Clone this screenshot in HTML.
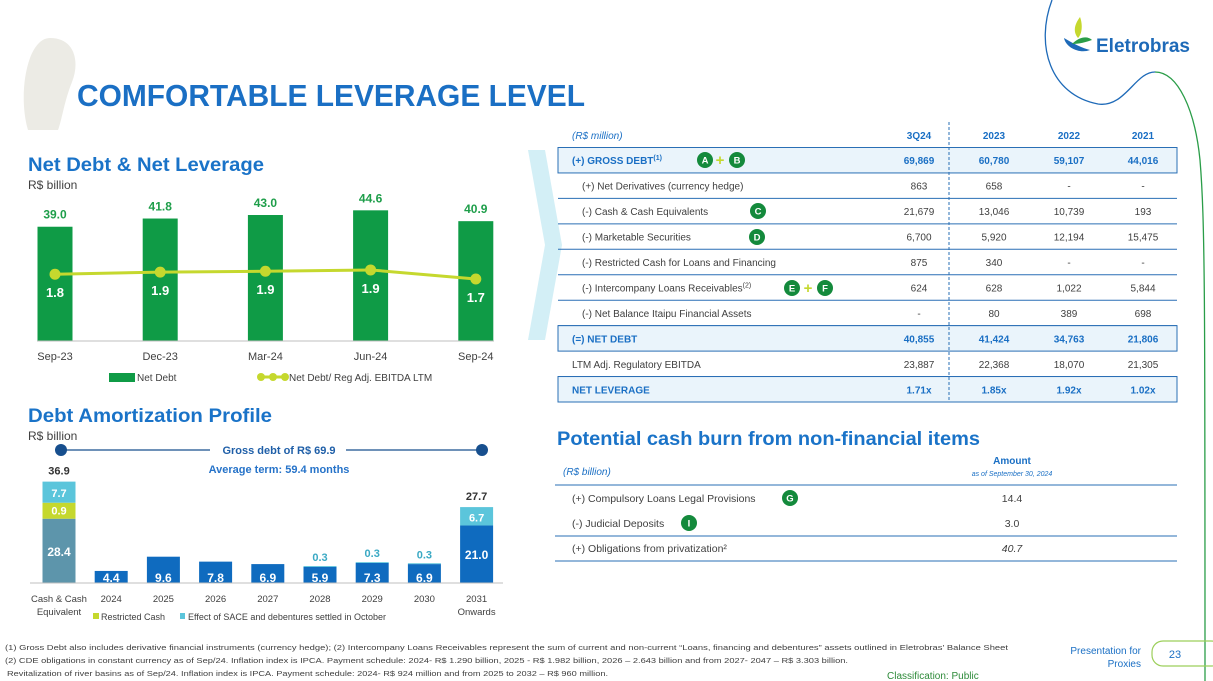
<!DOCTYPE html>
<html><head><meta charset="utf-8"><style>
html,body{margin:0;padding:0;background:#fff;}
svg{display:block;font-family:"Liberation Sans",sans-serif;}
</style></head><body>
<svg id="s" width="1213" height="681" viewBox="0 0 1213 681" xmlns="http://www.w3.org/2000/svg">
<path d="M50,38 C75,38 80,62 72,82 C64,102 62,120 58,130 L28,130 C22,110 22,80 30,58 C35,45 42,38 50,38Z" fill="#ecebe5"/>
<path d="M1052,0 C1035,45 1050,95 1098,104 C1125,108 1135,72 1155,72" fill="none" stroke="#1e6ab8" stroke-width="1.3"/>
<path d="M1155,72 C1178,72 1195,110 1200,160 C1205,220 1205,300 1205,681" fill="none" stroke="#2a9d48" stroke-width="1.3"/>
<g>
<path d="M1080,17 C1074,25 1073,32 1078,38 C1082,34 1083,25 1080,17Z" fill="#c5d82e"/>
<path d="M1064,38 C1066,48 1080,54 1090,50 C1082,48 1074,44 1064,38Z" fill="#1e6ab8"/>
<path d="M1072,44 C1080,36 1088,36 1092,40 C1086,42 1080,44 1072,44Z" fill="#2a9d48"/>
<text x="1096" y="52" font-size="19" font-weight="bold" fill="#1e6ab8" textLength="94">Eletrobras</text>
</g>
<text x="77" y="106" font-size="31" font-weight="bold" fill="#1a6fc4" textLength="508" lengthAdjust="spacingAndGlyphs">COMFORTABLE LEVERAGE LEVEL</text>

<text x="28" y="171" font-size="19" font-weight="bold" fill="#1a73c8" textLength="236" lengthAdjust="spacingAndGlyphs">Net Debt &amp; Net Leverage</text>
<text x="28" y="189" font-size="12" fill="#404040">R$ billion</text>
<g id="c1"></g>

<text x="28" y="422" font-size="19" font-weight="bold" fill="#1a73c8" textLength="244" lengthAdjust="spacingAndGlyphs">Debt Amortization Profile</text>
<text x="28" y="440" font-size="12" fill="#404040">R$ billion</text>
<g>
<line x1="61" y1="450" x2="210" y2="450" stroke="#174f8e" stroke-width="1.3"/>
<line x1="346" y1="450" x2="482" y2="450" stroke="#174f8e" stroke-width="1.3"/>
<circle cx="61" cy="450" r="6" fill="#174f8e"/><circle cx="482" cy="450" r="6" fill="#174f8e"/>
<text x="279" y="454" font-size="11" font-weight="bold" fill="#1f5fa8" text-anchor="middle">Gross debt of R$ 69.9</text>
<text x="279" y="473" font-size="11" font-weight="bold" fill="#2673c9" text-anchor="middle">Average term: 59.4 months</text>
</g>
<g id="c2"></g>

<polygon points="528,150 545,150 562,245 545,340 528,340 545,245" fill="#d3eff6"/>

<g id="tbl"></g>

<text x="557" y="445" font-size="19" font-weight="bold" fill="#1a73c8" textLength="423" lengthAdjust="spacingAndGlyphs">Potential cash burn from non-financial items</text>
<g id="tbl2"></g>

<g font-size="7.5" fill="#404040">
<text x="5" y="650" textLength="1003" lengthAdjust="spacingAndGlyphs">(1)    Gross Debt also includes derivative financial instruments (currency hedge); (2) Intercompany Loans Receivables represent the sum of current and non-current “Loans, financing and debentures” assets outlined in Eletrobras’ Balance Sheet</text>
<text x="5" y="663" textLength="843" lengthAdjust="spacingAndGlyphs">(2)    CDE obligations in constant currency as of Sep/24. Inflation index is IPCA. Payment schedule: 2024- R$ 1.290 billion, 2025 - R$ 1.982 billion, 2026 – 2.643 billion and from 2027- 2047 – R$ 3.303 billion.</text>
<text x="7" y="676" textLength="601" lengthAdjust="spacingAndGlyphs">Revitalization of river basins as of Sep/24. Inflation index is IPCA. Payment schedule: 2024- R$ 924 million and from 2025 to 2032 – R$ 960 million.</text>
</g>
<text x="1141" y="654" font-size="10" fill="#1a6fc4" text-anchor="end">Presentation for</text>
<text x="1141" y="667" font-size="10" fill="#1a6fc4" text-anchor="end">Proxies</text>
<rect x="1152" y="641" width="70" height="25" rx="11" fill="none" stroke="#9ccf5a" stroke-width="1.2"/>
<text x="1175" y="658" font-size="11" fill="#1a6fc4" text-anchor="middle">23</text>
<text x="887" y="679" font-size="10" fill="#2e8b3a">Classification: Public</text>
</svg>
<script>
var NS="http://www.w3.org/2000/svg";
function mk(p,t,a,txt){var e=document.createElementNS(NS,t);for(var k in a)e.setAttribute(k,a[k]);if(txt!==undefined)e.textContent=txt;p.appendChild(e);return e;}

var c1Cats=["Sep-23","Dec-23","Mar-24","Jun-24","Sep-24"];
var c1NetDebt=[39.0,41.8,43.0,44.6,40.9];
var c1Leverage=[1.82,1.87,1.89,1.92,1.71];
var c1LevLabels=["1.8","1.9","1.9","1.9","1.7"];

var c1=document.getElementById('c1');
function x1(i){return 55+i*105.2;}
function y1(v){return 341-v*2.93;}
function yl(v){return 279.4-(v-1.7)*43;}
c1NetDebt.forEach(function(v,i){
  var r=mk(c1,'rect',{x:x1(i)-17.5,y:y1(v),width:35,height:341-y1(v),fill:'#0f9b46'});
  
  
  var t=mk(c1,'text',{x:x1(i),y:y1(v)-8,'font-size':12,'font-weight':'bold',fill:'#1e9e4a','text-anchor':'middle'},v.toFixed(1));
  
  
  var xl=mk(c1,'text',{x:x1(i),y:360,'font-size':11,fill:'#404040','text-anchor':'middle'},c1Cats[i]);
  
  
});
var ax=mk(c1,'line',{x1:37,y1:341,x2:494,y2:341,stroke:'#bfbfbf','stroke-width':1});


var pts=c1Leverage.map(function(v,i){return x1(i)+','+yl(v);}).join(' ');
var pl=mk(c1,'polyline',{points:pts,fill:'none',stroke:'#c5d82e','stroke-width':3});


c1Leverage.forEach(function(v,i){
  var c=mk(c1,'circle',{cx:x1(i),cy:yl(v),r:5.5,fill:'#c5d82e'});
  
  
  var t=mk(c1,'text',{x:x1(i),y:yl(v)+23,'font-size':13,'font-weight':'bold',fill:'#fff','text-anchor':'middle'},c1LevLabels[i]);
  
  
});
var lg=mk(c1,'g',{});


mk(lg,'rect',{x:109,y:373,width:26,height:9,fill:'#0f9b46'});
mk(lg,'text',{x:137,y:381,'font-size':10,fill:'#404040'},'Net Debt');
mk(lg,'line',{x1:258,y1:377,x2:288,y2:377,stroke:'#c5d82e','stroke-width':3});
[261,273,285].forEach(function(cx){mk(lg,'circle',{cx:cx,cy:377,r:4,fill:'#c5d82e'});});
mk(lg,'text',{x:289,y:381,'font-size':10,fill:'#404040'},'Net Debt/ Reg Adj. EBITDA LTM');

var c2Cats=["Cash & Cash|Equivalent","2024","2025","2026","2027","2028","2029","2030","2031|Onwards"];
var c2Main=[28.4,4.4,9.6,7.8,6.9,5.9,7.3,6.9,21.0];
var c2Restricted=[0.9,0,0,0,0,0,0,0,0];
var c2Sace=[7.7,0,0,0,0,0.3,0.3,0.3,6.7];
var c2Totals=["36.9","","","","","","","","27.7"];

var c2=document.getElementById('c2');
function x2(i){return 59+i*52.2;}
function h2(v){return v*2.74;}
var base=583;
c2Main.forEach(function(v,i){
  var hr=c2Restricted[i]>0?Math.max(h2(c2Restricted[i]),16):0;
  var hm=Math.max(h2(v)+h2(c2Restricted[i])-hr,4);
  var y=base-hm;
  var r=mk(c2,'rect',{x:x2(i)-16.5,y:y,width:33,height:hm,fill:i===0?'#5d95ab':'#0f6bbf'});
  
  
  var ly=hm>30?y+hm/2+5:y+hm-1;
  var t=mk(c2,'text',{x:x2(i),y:ly,'font-size':12,'font-weight':'bold',fill:'#fff','text-anchor':'middle'},v.toFixed(1));
  
  
  if(c2Restricted[i]>0){
    y-=hr;
    var rr=mk(c2,'rect',{x:x2(i)-16.5,y:y,width:33,height:hr,fill:'#c5d82e'});
    
    
    var tr=mk(c2,'text',{x:x2(i),y:y+hr/2+4,'font-size':11,'font-weight':'bold',fill:'#fff','text-anchor':'middle'},c2Restricted[i].toFixed(1));
    
    
  }
  if(c2Sace[i]>0){
    var hs=h2(c2Sace[i]); y-=hs;
    var rs=mk(c2,'rect',{x:x2(i)-16.5,y:y,width:33,height:hs,fill:'#5bc5db'});
    
    
    var big=hs>12;
    var ts=mk(c2,'text',{x:x2(i),y:big?y+hs/2+5:y-5,'font-size':11,'font-weight':'bold',fill:big?'#fff':'#3aa9c4','text-anchor':'middle'},c2Sace[i].toFixed(1));
    
    
  }
  if(c2Totals[i]){
    var tt=mk(c2,'text',{x:x2(i),y:y-7,'font-size':11,'font-weight':'bold',fill:'#333','text-anchor':'middle'},c2Totals[i]);
    
    
  }
  var parts=c2Cats[i].split('|');
  parts.forEach(function(p,k){
    var xl=mk(c2,'text',{x:x2(i),y:602+k*13,'font-size':9.5,fill:'#404040','text-anchor':'middle'},p);
    
    
  });
});
var ax2=mk(c2,'line',{x1:30,y1:583,x2:503,y2:583,stroke:'#bfbfbf','stroke-width':1});


var lg2=mk(c2,'g',{});


mk(lg2,'rect',{x:93,y:613,width:6,height:6,fill:'#c5d82e'});
mk(lg2,'text',{x:101,y:620,'font-size':9,fill:'#404040'},'Restricted Cash');
mk(lg2,'rect',{x:180,y:613,width:5,height:6,fill:'#5bc5db'});
mk(lg2,'text',{x:188,y:620,'font-size':9,fill:'#404040'},'Effect of SACE and debentures settled in October');

var tbl=document.getElementById('tbl');
var tHead=["3Q24","2023","2022","2021"];
var colX=[919,994,1069,1143];
var rows=[
 ["(+) GROSS DEBT","69,869","60,780","59,107","44,016",1,"1"],
 ["(+) Net Derivatives (currency hedge)","863","658","-","-",0],
 ["(-) Cash & Cash Equivalents","21,679","13,046","10,739","193",0],
 ["(-) Marketable Securities","6,700","5,920","12,194","15,475",0],
 ["(-) Restricted Cash for Loans and Financing","875","340","-","-",0],
 ["(-) Intercompany Loans Receivables","624","628","1,022","5,844",0,"2"],
 ["(-) Net Balance Itaipu Financial Assets","-","80","389","698",0],
 ["(=) NET DEBT","40,855","41,424","34,763","21,806",1],
 ["LTM Adj. Regulatory EBITDA","23,887","22,368","18,070","21,305",2],
 ["NET LEVERAGE","1.71x","1.85x","1.92x","1.02x",1]
];
var hdr=mk(tbl,'text',{x:572,y:139,'font-size':10,'font-style':'italic',fill:'#1a6fc4'},'(R$ million)');


tHead.forEach(function(h,j){var t=mk(tbl,'text',{x:colX[j],y:139,'font-size':10,'font-weight':'bold',fill:'#1a6fc4','text-anchor':'middle'},h);

});
var top0=147.5,rh=25.45;
rows.forEach(function(r,i){
  var y0=top0+i*rh,cy=y0+rh/2+4;
  var g=mk(tbl,'g',{});
  
  
  if(r[5]===1){mk(g,'rect',{x:558,y:y0,width:619,height:rh,fill:'#eaf4fb',stroke:'#2a6fb5','stroke-width':1});}
  else mk(g,'line',{x1:558,y1:y0+rh,x2:1177,y2:y0+rh,stroke:'#2a6fb5','stroke-width':1});
  var bold=r[5]===1,lx=(r[5]===0)?582:572;
  var t=mk(g,'text',{x:lx,y:cy,'font-size':10,'font-weight':bold?'bold':'normal',fill:bold?'#1a6fc4':'#404040'},r[0]);
  if(r[6]){mk(t,'tspan',{'font-size':7,dy:-4},'('+r[6]+')');}
  for(var j=0;j<4;j++){mk(g,'text',{x:colX[j],y:cy,'font-size':10,'font-weight':bold?'bold':'normal',fill:bold?'#1a6fc4':'#404040','text-anchor':'middle'},r[j+1]);}
});
var dl=mk(tbl,'line',{x1:949,y1:122,x2:949,y2:402,stroke:'#2a6fb5','stroke-width':1,'stroke-dasharray':'3,2'});


function badge(p,x,y,l){var g=mk(p,'g',{});


mk(g,'circle',{cx:x,cy:y,r:8,fill:'#148a3c'});mk(g,'text',{x:x,y:y+3.5,'font-size':9.5,'font-weight':'bold',fill:'#fff','text-anchor':'middle'},l);}
function plus(p,x,y){var t=mk(p,'text',{x:x,y:y+5,'font-size':15,'font-weight':'bold',fill:'#c5d82e','text-anchor':'middle'},'+');

}
badge(tbl,705,160,'A');plus(tbl,720,160);badge(tbl,737,160,'B');
badge(tbl,758,211,'C');badge(tbl,757,237,'D');
badge(tbl,792,288,'E');plus(tbl,808,288);badge(tbl,825,288,'F');

var t2=document.getElementById('tbl2');
var t2Rows=[["(+) Compulsory Loans Legal Provisions","14.4",false],["(-) Judicial Deposits","3.0",false],["(+) Obligations from privatization²","40.7",true]];
var a=mk(t2,'text',{x:563,y:475,'font-size':10,'font-style':'italic',fill:'#1a6fc4'},'(R$ billion)');


var b=mk(t2,'text',{x:1012,y:464,'font-size':10,'font-weight':'bold',fill:'#1a6fc4','text-anchor':'middle'},'Amount');


var c=mk(t2,'text',{x:1012,y:476,'font-size':7,'font-style':'italic',fill:'#1a6fc4','text-anchor':'middle'},'as of September 30, 2024');


[485,536,561].forEach(function(y){mk(t2,'line',{x1:555,y1:y,x2:1177,y2:y,stroke:'#2a6fb5','stroke-width':1});});
t2Rows.forEach(function(r,i){var y=502+i*25;
var g=mk(t2,'g',{});


mk(g,'text',{x:572,y:y,'font-size':10.5,fill:'#404040'},r[0]);
mk(g,'text',{x:1012,y:y,'font-size':10.5,fill:'#404040','text-anchor':'middle','font-style':r[2]?'italic':'normal'},r[1]);});
badge(t2,790,498,'G');badge(t2,689,523,'I');
</script>
</body></html>
